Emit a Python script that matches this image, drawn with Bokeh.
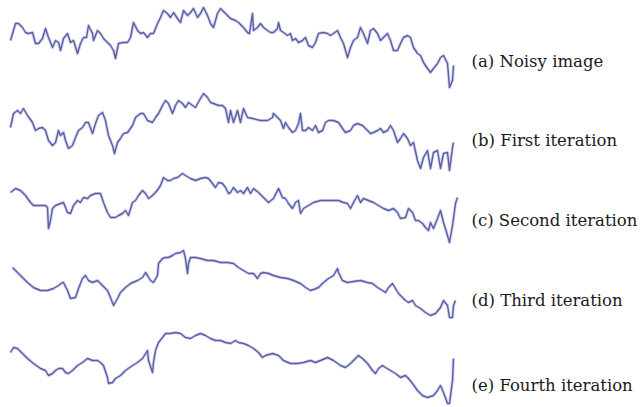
from bokeh.plotting import figure
from bokeh.models import Range1d
from bokeh.embed import file_html
from bokeh.resources import INLINE
from bokeh.core.properties import value

# Trace samples (x position, signal level; level axis runs downward)
a_x = [10,15,18,22,25,28,32,35,38,42,45,48,52,55,58,60,63,67,70,73,77,80,83,86,88,92,93,97,100,103,107,110,113,115,118,122,127,130,133,137,140,143,147,150,153,157,160,163,167,170,173,177,180,183,187,190,193,197,200,203,207,210,213,217,220,225,230,235,238,243,247,249,252,253,257,260,263,267,270,273,277,278,280,283,287,290,292,295,298,302,305,308,312,315,318,323,327,330,333,337,340,343,347,350,353,357,360,363,367,370,373,377,380,383,387,390,393,397,400,403,407,410,413,417,420,423,427,430,433,437,440,443,447,449,452,453]
a_y = [40,23,23,27,32,33,32,43,43,38,28,37,47,40,42,50,38,33,42,40,53,43,37,37,25,33,40,30,33,38,42,45,50,58,43,42,42,37,22,30,33,32,37,33,33,23,17,10,13,17,12,18,22,10,15,12,8,17,13,7,15,23,27,13,8,13,18,20,22,27,32,33,13,30,27,23,27,30,32,32,28,22,30,32,35,33,40,38,42,40,37,45,47,42,33,32,33,35,33,30,37,43,57,47,40,37,27,33,43,30,28,33,40,37,33,40,50,50,43,37,35,37,47,53,55,62,68,72,68,63,57,55,63,87,80,65]

b_x = [10,13,17,20,23,27,32,35,38,42,45,48,52,55,58,60,63,65,68,72,75,78,82,85,88,92,95,98,102,105,108,112,114,117,120,123,127,132,135,140,143,147,152,155,158,162,165,168,172,175,178,182,185,188,192,195,200,203,207,210,213,218,222,225,228,230,233,237,240,243,247,252,260,267,272,273,277,280,283,285,288,292,295,298,300,302,305,308,312,315,318,322,325,328,333,338,342,345,350,353,357,362,367,370,373,377,380,383,387,390,393,397,400,403,407,410,413,417,420,423,427,430,433,437,440,443,447,449,452,453]
b_y = [127,113,110,113,108,115,122,130,128,127,130,140,145,142,130,135,132,140,148,145,137,130,127,122,122,133,123,115,112,120,135,145,153,142,138,133,132,125,117,113,113,120,122,117,113,105,100,103,113,105,100,103,107,102,105,107,98,93,97,102,103,105,105,108,122,110,122,110,122,108,117,118,120,120,117,113,117,120,128,122,127,132,130,123,113,130,130,127,130,125,132,130,122,120,120,122,128,132,130,125,123,125,130,133,132,130,128,132,130,125,130,142,138,133,138,145,142,160,168,157,150,168,152,150,168,153,152,170,147,142]

c_x = [10,15,20,25,30,33,40,45,47,48,50,52,55,60,63,67,70,73,77,80,83,87,90,95,100,103,107,110,115,118,122,125,128,132,135,138,142,145,148,152,155,158,160,163,167,170,173,177,182,185,190,195,200,205,208,212,215,218,222,225,228,230,233,237,240,243,247,250,253,258,263,268,273,278,282,285,288,292,295,298,300,303,308,313,320,327,333,338,343,347,350,353,357,360,363,368,373,378,383,388,393,397,400,405,408,412,415,418,422,425,428,430,433,437,440,443,447,449,452,455,457]
c_y = [192,188,190,195,202,205,205,205,207,228,220,208,205,203,202,212,213,205,200,202,197,198,195,193,193,202,212,217,217,215,213,210,215,202,200,195,190,193,198,195,192,188,185,177,180,180,178,177,173,175,178,180,178,177,178,183,187,182,183,187,193,192,187,192,190,193,187,193,188,192,197,202,198,188,197,198,203,208,202,200,213,208,205,202,200,200,200,200,202,203,208,202,195,202,198,200,202,205,208,210,208,212,218,217,208,212,220,220,223,227,230,222,228,218,210,222,235,242,225,203,197]

d_x = [12,17,22,27,33,40,47,53,58,62,63,67,70,75,78,82,85,88,92,97,102,107,110,113,117,120,125,130,137,142,145,147,150,153,157,158,162,165,168,172,175,180,183,185,187,188,190,195,200,207,213,220,227,233,238,243,248,253,257,260,263,268,273,280,287,293,300,305,310,313,318,323,328,333,337,338,342,347,353,360,367,372,377,382,385,388,392,395,398,402,405,408,412,415,420,425,430,435,440,443,447,449,452,453,455]
d_y = [267,272,277,282,287,290,290,288,285,282,282,290,298,297,288,278,275,280,282,280,285,290,297,305,298,292,287,283,280,277,272,275,280,282,275,263,258,257,257,255,253,252,250,258,273,263,257,257,258,260,260,262,262,263,267,270,273,273,278,273,272,273,275,277,278,280,283,287,290,289,287,282,278,275,268,272,280,282,281,280,282,283,287,290,292,287,283,288,293,297,300,302,300,305,308,312,315,313,307,300,305,317,317,305,300]

e_x = [10,13,17,22,27,33,40,45,48,52,55,58,62,65,68,72,77,82,87,92,97,100,103,107,108,112,115,120,125,132,137,142,147,148,152,153,155,158,162,165,170,175,180,185,190,195,200,205,210,215,220,225,230,235,238,243,248,253,258,262,265,272,278,283,290,297,303,310,315,320,327,333,340,345,350,355,358,362,367,372,375,378,382,385,390,395,400,405,408,412,417,422,427,433,437,440,443,447,449,452,453]
e_y = [352,347,348,353,358,363,368,370,375,373,370,368,368,372,373,370,365,362,358,360,360,362,365,377,383,382,378,375,370,365,362,358,350,360,372,362,350,342,337,333,333,332,333,337,338,335,333,335,338,340,340,342,343,340,342,343,345,348,352,357,355,353,355,360,363,363,362,360,362,360,357,360,365,367,363,358,355,358,363,370,373,368,365,367,370,373,377,375,378,383,390,395,397,395,390,385,392,403,403,380,358]

labels = ["(a) Noisy image", "(b) First iteration", "(c) Second iteration",
          "(d) Third iteration", "(e) Fourth iteration"]
label_y = [61, 140, 220, 300, 385]
label_x = [471, 471, 471, 471, 471]

p = figure(width=642, height=407, output_backend="svg", toolbar_location=None,
           x_range=Range1d(0, 642), y_range=Range1d(407, 0),
           min_border=0, outline_line_color=None)
p.axis.visible = False
p.grid.visible = False
p.background_fill_color = "white"
p.border_fill_color = "white"

trace_color = "#5256a6"
for xs, ys in [(a_x, a_y), (b_x, b_y), (c_x, c_y), (d_x, d_y), (e_x, e_y)]:
    p.line(xs, ys, line_color=trace_color, line_width=3.2, line_alpha=0.25, line_join="round")
    p.line(xs, ys, line_color=trace_color, line_width=1.4, line_alpha=0.95, line_join="round")

p.text(x=label_x, y=label_y, text=labels, text_font=value("DejaVu Serif"),
       text_font_size="16.5px", text_baseline="middle", text_align="left", text_color="#1a1a1a")

open("out.html", "w").write(file_html(p, INLINE))
